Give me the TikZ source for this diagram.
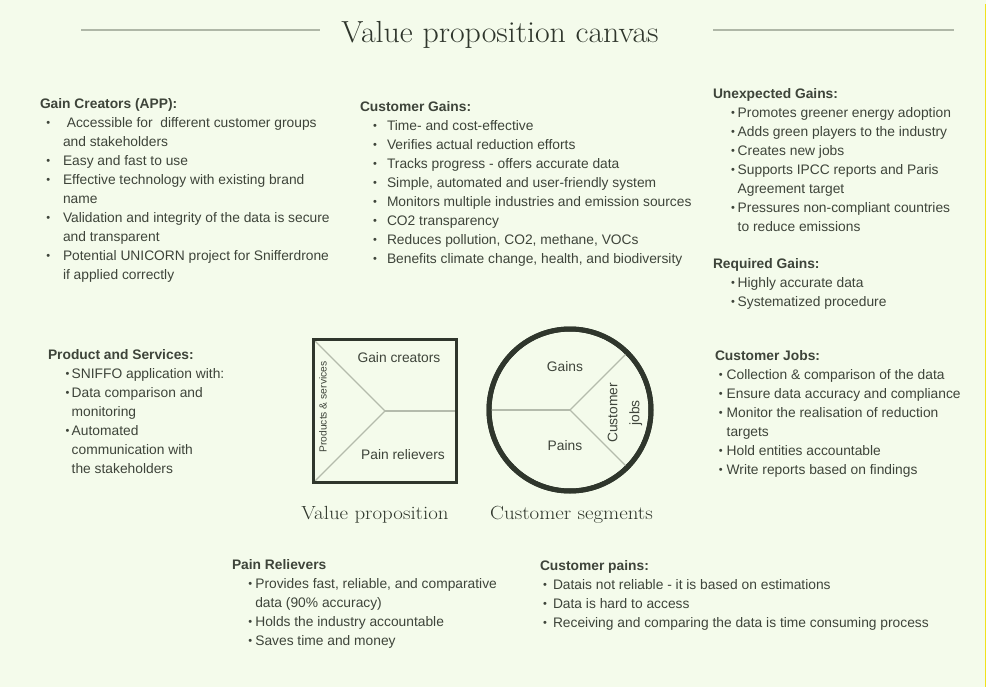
\documentclass[tikz,border=0pt]{standalone}
\usepackage{fontspec}
\newfontfamily\sansf{Liberation Sans}
\definecolor{paper}{HTML}{F4FBEB}
\definecolor{ink}{HTML}{2F362C}
\definecolor{bodyc}{HTML}{3E443A}
\definecolor{rulec}{HTML}{AFB7A7}
\definecolor{spoke}{HTML}{B4BBAC}
\definecolor{edgey}{HTML}{F0E21C}

\newcommand\bodyfont{\sansf\fontsize{13.8}{19}\selectfont}
\newcommand\dotb{\raisebox{0.6pt}{\fontsize{11}{11}\selectfont •}}
% bullet item: \bA = bullet centre offset, \bB = gap from bullet centre to text
\newcommand\bA{0}
\newcommand\bB{0}
\newcommand\itm{\hspace*{\bA pt}\makebox[0pt]{\dotb}\hspace*{\bB pt}}
\newcommand\cnt{\hspace*{\dimexpr\bA pt+\bB pt\relax}}
\newcommand\hd[1]{\strut\textbf{#1}}
\tikzset{bul/.code 2 args={\gdef\bA{#1}\gdef\bB{#2}}}

\begin{document}
\begin{tikzpicture}[x=1pt,y=-1pt,
  txt/.style={anchor=north west, inner sep=0, outer sep=0, align=left, text=bodyc, font=\bodyfont},
  lbl/.style={inner sep=0, text=bodyc, font=\bodyfont},
  titlerule/.style={draw=rulec, line width=2.6pt},
  spk/.style={draw=spoke, line width=1.3pt},
  frame/.style={draw=ink, line width=3pt, inner sep=0, outer sep=0},
  ring/.style={draw=ink, line width=5pt, circle, inner sep=0, outer sep=0},
  caption/.style={anchor=base, inner sep=0, text=ink, font=\fontsize{19}{21}\selectfont}
]
% page
\fill[paper] (0,0) rectangle (989,687);
\fill[white] (986,0) rectangle (989,687);
\draw[edgey, line width=1.2pt] (985.3,4) -- (985.3,687);
\useasboundingbox (0,0) rectangle (989,687);

% title with side rules
\node[anchor=base, inner sep=0, text=ink, font=\fontsize{30.5}{32}\selectfont] (title) at (500,43) {\scalebox{1.045}[1]{Value proposition canvas}};
\coordinate (tl1) at (81,30); \coordinate (tl2) at (320,30);
\coordinate (tr1) at (713,30); \coordinate (tr2) at (954,30);
\draw[titlerule] (tl1) -- (tl2);
\draw[titlerule] (tr1) -- (tr2);

% value proposition square
\node[frame, minimum size=143pt] (vp) at (385,411) {};
\draw[spk] (vp.north west) -- (vp.center) -- (vp.south west);
\draw[spk] (vp.center) -- (vp.east);
\draw[frame] (vp.north west) rectangle (vp.south east);
\node[lbl] (gcr) at (399,358) {Gain creators};
\node[lbl] (prl) at (403,455) {Pain relievers};
\node[lbl, rotate=90, font=\sansf\fontsize{10.3}{12}\selectfont] (pns) at (323,407) {Products \& services};

% customer segment circle
\node[ring, minimum size=162pt] (cs) at (570,410) {};
\draw[spk] (cs.west) -- (cs.center);
\draw[spk] (cs.center) -- (cs.45);
\draw[spk] (cs.center) -- (cs.-45);
\draw[draw=ink, line width=5pt] (cs.center) circle[radius=81pt];
\node[lbl] (gns) at (565,367) {Gains};
\node[lbl] (pns2) at (565,446) {Pains};
\node[lbl, rotate=90, align=center, font=\sansf\fontsize{13.8}{22}\selectfont] (cjb) at (625,413) {Customer\\jobs};

% captions
\node[caption] (vpl) at (375,519) {\scalebox{1.1}[1]{Value proposition}};
\node[caption] (csl) at (571.5,519) {\scalebox{1.1}[1]{Customer segments}};

% text blocks
\node[txt, bul={8.3}{14.7}] (gaincr) at (40,94.7) {%
\hd{Gain Creators (APP):}\\
\itm\ Accessible for\ \ different customer groups\\
\cnt and stakeholders\\
\itm Easy and fast to use\\
\itm Effective technology with existing brand\\
\cnt name\\
\itm Validation and integrity of the data is secure\\
\cnt and transparent\\
\itm Potential UNICORN project for Snifferdrone\\
\cnt if applied correctly};

\node[txt, bul={15}{12}] (custg) at (360,98.2) {%
\hd{Customer Gains:}\\
\itm Time- and cost-effective\\
\itm Verifies actual reduction efforts\\
\itm Tracks progress - offers accurate data\\
\itm Simple, automated and user-friendly system\\
\itm Monitors multiple industries and emission sources\\
\itm CO2 transparency\\
\itm Reduces pollution, CO2, methane, VOCs\\
\itm Benefits climate change, health, and biodiversity};

\node[txt, bul={20}{4.7}] (unexg) at (713,84.7) {%
\hd{Unexpected Gains:}\\
\itm Promotes greener energy adoption\\
\itm Adds green players to the industry\\
\itm Creates new jobs\\
\itm Supports IPCC reports and Paris\\
\cnt Agreement target\\
\itm Pressures non-compliant countries\\
\cnt to reduce emissions};

\node[txt, bul={20}{4.7}] (reqg) at (713,254.7) {%
\hd{Required Gains:}\\
\itm Highly accurate data\\
\itm Systematized procedure};

\node[txt, bul={19.5}{4.2}] (prods) at (48,345.7) {%
\hd{Product and Services:}\\
\itm SNIFFO application with:\\
\itm Data comparison and\\
\cnt monitoring\\
\itm Automated\\
\cnt communication with\\
\cnt the stakeholders};

\node[txt, bul={5.7}{6}] (cjobs) at (715,346.7) {%
\hd{Customer Jobs:}\\
\itm Collection \& comparison of the data\\
\itm Ensure data accuracy and compliance\\
\itm Monitor the realisation of reduction\\
\cnt targets\\
\itm Hold entities accountable\\
\itm Write reports based on findings};

\node[txt, bul={18.3}{5}] (painr) at (232,555.7) {%
\hd{Pain Relievers}\\
\itm Provides fast, reliable, and comparative\\
\cnt data (90\% accuracy)\\
\itm Holds the industry accountable\\
\itm Saves time and money};

\node[txt, bul={5}{8}] (cpains) at (540,556.7) {%
\hd{Customer pains:}\\
\itm Datais not reliable - it is based on estimations\\
\itm Data is hard to access\\
\itm Receiving and comparing the data is time consuming process};
\end{tikzpicture}
\end{document}
